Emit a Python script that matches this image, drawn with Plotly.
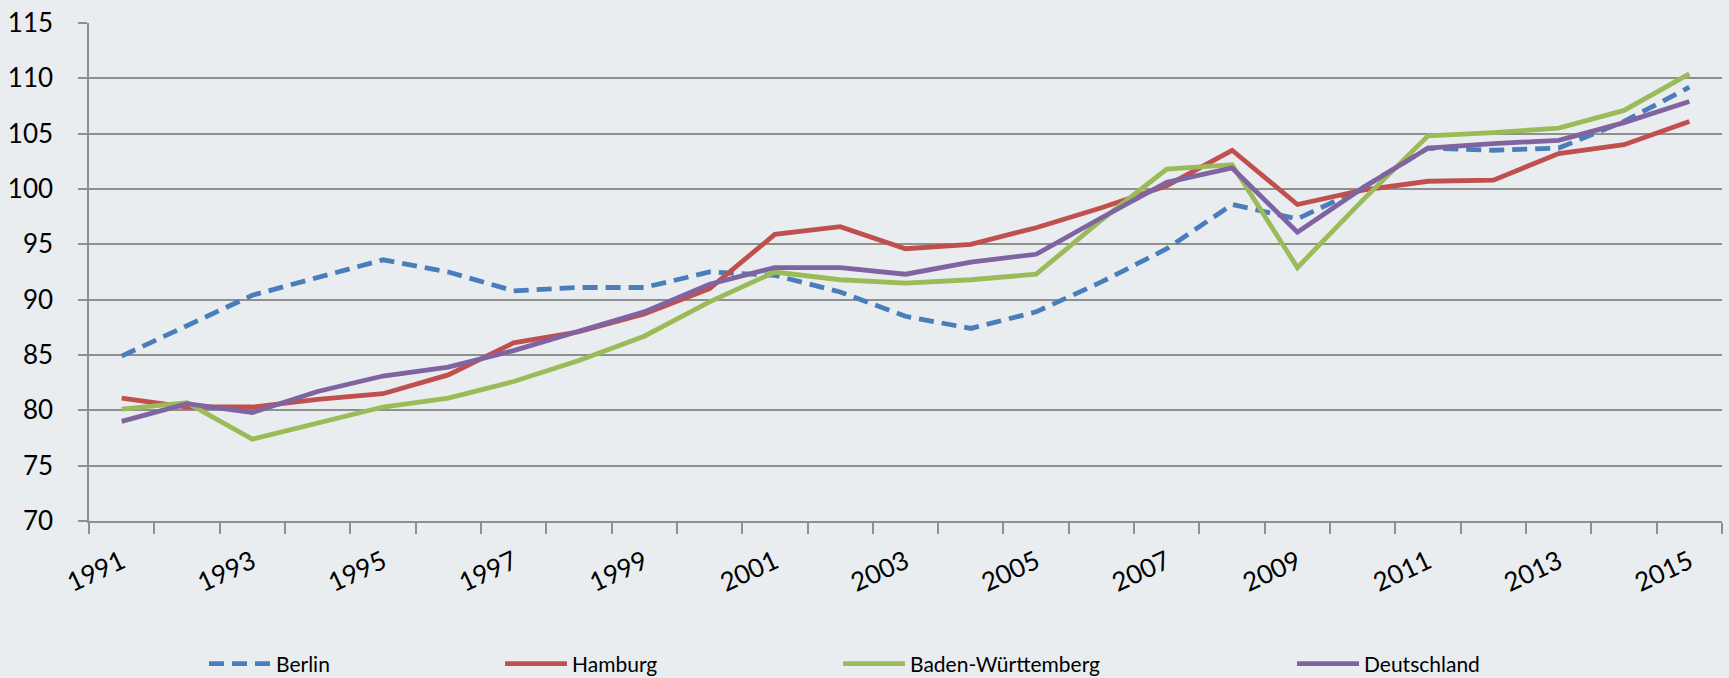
import plotly.graph_objects as go

years = list(range(1991, 2016))
berlin = [84.9, 87.7, 90.4, 92.0, 93.6, 92.5, 90.8, 91.1, 91.1, 92.5, 92.2, 90.7,
          88.5, 87.4, 88.9, 91.6, 94.6, 98.6, 97.3, 100.1, 103.7, 103.5, 103.7, 106.1, 109.2]
hamburg = [81.1, 80.3, 80.3, 81.0, 81.5, 83.2, 86.1, 87.1, 88.7, 91.0, 95.9, 96.6,
           94.6, 95.0, 96.5, 98.3, 100.3, 103.5, 98.6, 99.9, 100.7, 100.8, 103.2, 104.0, 106.1]
baden = [80.1, 80.7, 77.4, 78.8, 80.3, 81.1, 82.6, 84.5, 86.7, 89.8, 92.5, 91.8,
         91.5, 91.8, 92.3, 97.2, 101.8, 102.2, 92.9, 99.0, 104.8, 105.1, 105.5, 107.1, 110.4]
deutschland = [79.0, 80.6, 79.8, 81.7, 83.1, 83.9, 85.4, 87.1, 88.9, 91.4, 92.9, 92.9,
               92.3, 93.4, 94.1, 97.4, 100.6, 101.9, 96.1, 100.1, 103.7, 104.1, 104.4, 106.0, 107.9]

series_names = ["Berlin", "Hamburg", "Baden-Württemberg", "Deutschland"]
series_values = [berlin, hamburg, baden, deutschland]
colors = ["#4A7EBB", "#C0504D", "#9BBB59", "#8064A2"]
dashes = ["15px,8px", "solid", "solid", "solid"]
legend_ids = ["legend", "legend2", "legend3", "legend4"]
legend_text_px = [276, 572, 910, 1364]  # page x where each legend label starts

tick_years = [y for y in years if y % 2 == 1]
tick_text = [str(y) for y in tick_years]
y_ticks = [70, 75, 80, 85, 90, 95, 100, 105, 110, 115]

bg = "#E9EDF0"
grid = "#8F8F8F"
font_family = "Lato, 'Open Sans', sans-serif"

W, H = 1729, 678
L, R, T, B = 89, 7, 23, 157
plot_w = W - L - R
plot_h = H - T - B

fig = go.Figure()
for name, vals, col, dash, lg in zip(series_names, series_values, colors, dashes, legend_ids):
    fig.add_trace(go.Scatter(
        x=years, y=vals, mode="lines", name=name,
        line=dict(color=col, width=4.8, dash=dash),
        legend=lg,
    ))

layout_legends = {}
for lg, sx in zip(legend_ids, legend_text_px):
    layout_legends[lg] = dict(
        x=(sx - 72 - L) / plot_w, xanchor="left",
        y=(T + plot_h - 664) / plot_h, yanchor="middle",
        orientation="h", bgcolor="rgba(0,0,0,0)",
        font=dict(family=font_family, size=21, color="#000000"),
        itemwidth=62,
    )

fig.update_layout(
    width=W, height=H,
    paper_bgcolor=bg, plot_bgcolor=bg,
    margin=dict(l=L, r=R, t=T, b=B, autoexpand=False),
    showlegend=True,
    **layout_legends,
)

fig.update_xaxes(
    type="linear", range=[1990.5, 2015.5],
    tickvals=tick_years, ticktext=tick_text,
    ticks="", tickangle=-25,
    tickfont=dict(family=font_family, size=26, color="#000000"),
    ticklabelstandoff=14,
    showgrid=False, zeroline=False,
    showline=True, linecolor=grid, linewidth=1.5,
    minor=dict(tick0=1990.5, dtick=1, ticks="outside", ticklen=11,
               tickcolor=grid, tickwidth=1.5, showgrid=False),
)
fig.update_yaxes(
    range=[70, 115], tickmode="array", tickvals=y_ticks,
    ticks="outside", ticklen=9, tickcolor=grid, tickwidth=1.5,
    tickfont=dict(family=font_family, size=26, color="#000000"),
    ticklabelstandoff=20,
    showgrid=True, gridcolor=grid, gridwidth=1.5,
    zeroline=False, showline=True, linecolor=grid, linewidth=1.5,
)

# remove the default 8px page margin so the 1729x678 figure fills the window exactly
fig.write_html("out.html", config={"displayModeBar": False},
               post_script="document.body.style.margin='0px';")
